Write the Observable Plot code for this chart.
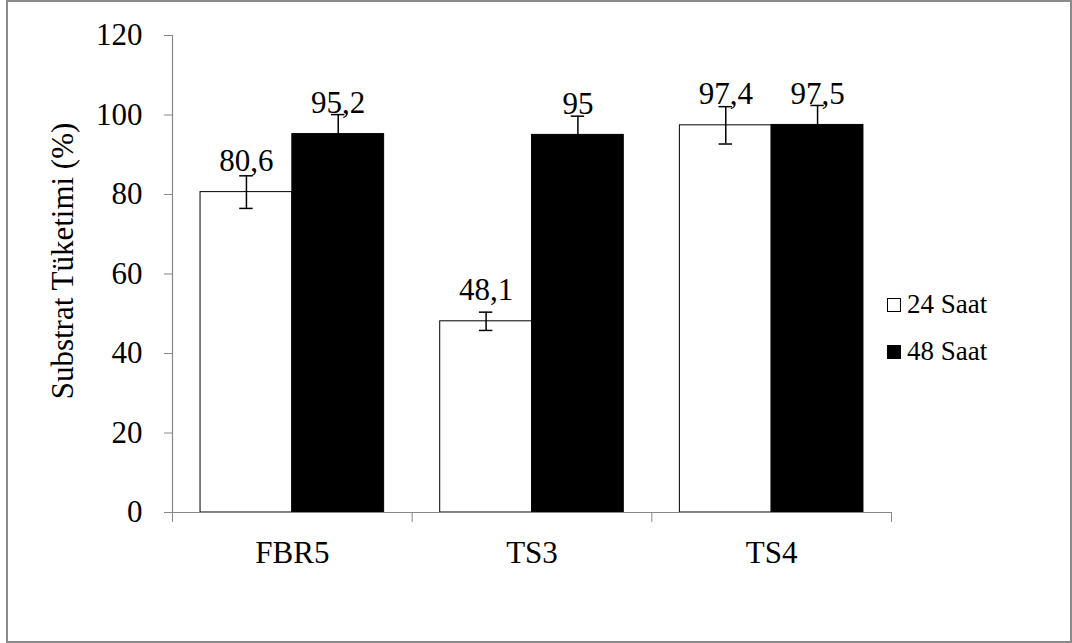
<!DOCTYPE html>
<html>
<head>
<meta charset="utf-8">
<script src="https://cdn.jsdelivr.net/npm/d3@7"></script>
<script src="https://cdn.jsdelivr.net/npm/@observablehq/plot@0.6"></script>
<style>
  html, body { margin: 0; padding: 0; background: #fff; }
  #wrap { position: relative; width: 1072px; height: 643px; overflow: hidden; font-family: "Liberation Serif", "Times New Roman", serif; }
  #border { position: absolute; left: 6px; top: 0; width: 1066px; height: 643px; box-sizing: border-box; border: 2.5px solid #8a8a8a; pointer-events: none; }
  #chart { position: absolute; left: 0; top: 0; }
  #legend { position: absolute; left: 887px; top: 281px; font-size: 27px; color: #000; font-family: "Liberation Serif", serif; }
  .item { display: flex; align-items: center; height: 47px; }
  .sw { width: 14px; height: 14px; box-sizing: border-box; border: 1px solid #000; margin-right: 6px; }
</style>
</head>
<body>
<div id="wrap">
  <div id="chart"></div>
  <div id="legend"></div>
  <div id="border"></div>
</div>
<script>
const categories = ["FBR5", "TS3", "TS4"];
const series = ["24 Saat", "48 Saat"];
const seriesColors = ["#ffffff", "#000000"];
const values24 = [80.6, 48.1, 97.4];
const values48 = [95.2, 95, 97.5];
const errors24 = [4.1, 2.3, 4.7];
const errors48 = [4.9, 4.7, 4.9];
const yTicks = [0, 20, 40, 60, 80, 100, 120];
const yLabel = "Substrat Tüketimi (%)";

// layout within each category band (band = 1 unit)
const groupStart = 0.117, groupMid = 0.5, groupEnd = 0.883, capHalf = 0.028;

const rows = [];
categories.forEach((cat, i) => {
  rows.push({cat, series: series[0], value: values24[i], err: errors24[i], x1: i + groupStart, x2: i + groupMid, fill: seriesColors[0]});
  rows.push({cat, series: series[1], value: values48[i], err: errors48[i], x1: i + groupMid, x2: i + groupEnd, fill: seriesColors[1]});
});
rows.forEach(d => d.xc = (d.x1 + d.x2) / 2);
const fmt = v => String(v).replace(".", ",");

const chart = Plot.plot({
  width: 1072,
  height: 643,
  marginLeft: 172,
  marginRight: 181,
  marginTop: 35,
  marginBottom: 131,
  style: {fontFamily: "'Liberation Serif', 'Times New Roman', serif", fontSize: "31px", color: "#000", background: "transparent", overflow: "visible"},
  x: {type: "linear", domain: [0, categories.length]},
  y: {domain: [0, 120]},
  marks: [
    Plot.rectY(rows, {x1: "x1", x2: "x2", y1: 0, y2: "value", fill: "fill", stroke: "#000", strokeWidth: 1}),
    Plot.ruleX(rows, {x: "xc", y1: d => d.value - d.err, y2: d => d.value + d.err, stroke: "#000", strokeWidth: 1.5}),
    Plot.ruleY(rows, {y: d => d.value + d.err, x1: d => d.xc - capHalf, x2: d => d.xc + capHalf, stroke: "#000", strokeWidth: 1.5}),
    Plot.ruleY(rows, {y: d => d.value - d.err, x1: d => d.xc - capHalf, x2: d => d.xc + capHalf, stroke: "#000", strokeWidth: 1.5}),
    Plot.text(rows, {x: "xc", y: "value", text: d => fmt(d.value), dy: -21, lineAnchor: "bottom", textAnchor: "middle", fill: "#000", fontSize: 31}),
    Plot.ruleX([0], {stroke: "#888", strokeWidth: 1.2}),
    Plot.ruleY([0], {stroke: "#888", strokeWidth: 1.2}),
    Plot.axisY({ticks: yTicks, tickSize: 8, tickPadding: 22, stroke: "#888", fill: "#000", label: null, tickFormat: d => String(d)}),
    Plot.axisX({ticks: d3.range(categories.length + 1), tickSize: 10, tickFormat: () => "", stroke: "#888", label: null}),
    Plot.axisX({ticks: categories.map((c, i) => i + 0.5), tickSize: 0, tickPadding: 28, tickFormat: d => categories[Math.floor(d)], fill: "#000", label: null}),
    Plot.text([yLabel], {frameAnchor: "left", text: d => d, rotate: -90, dx: -109, dy: -13, textAnchor: "middle", lineAnchor: "middle", fontSize: 31, fill: "#000"})
  ]
});
document.getElementById("chart").appendChild(chart);

const legend = document.getElementById("legend");
series.forEach((s, i) => {
  const item = document.createElement("div");
  item.className = "item";
  const sw = document.createElement("div");
  sw.className = "sw";
  sw.style.background = seriesColors[i];
  const t = document.createElement("span");
  t.textContent = s;
  item.appendChild(sw);
  item.appendChild(t);
  legend.appendChild(item);
});
</script>
</body>
</html>
